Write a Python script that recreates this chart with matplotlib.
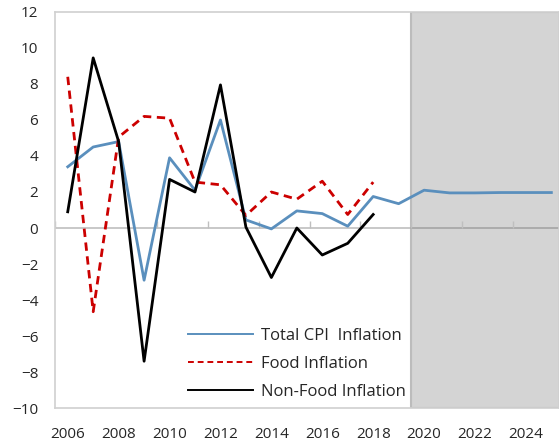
#!/usr/bin/env python3
import matplotlib.pyplot as plt
import numpy

years = numpy.arange(2006, 2026)
hist_years = numpy.arange(2006, 2019)
total_cpi = [3.4, 4.5, 4.8, -2.9, 3.9, 2.1, 6.0, 0.45, -0.05, 0.95, 0.8, 0.1,
             1.75, 1.35, 2.1, 1.95, 1.95, 1.97, 1.97, 1.97]
food = [8.4, -4.65, 5.05, 6.2, 6.1, 2.55, 2.4, 0.7, 2.0, 1.6, 2.6, 0.75, 2.55]
non_food = [0.9, 9.45, 4.8, -7.4, 2.7, 2.0, 7.95, 0.05, -2.75, 0.0, -1.5, -0.85, 0.75]
forecast_start = 2019.5
tick_labels = [str(y) for y in years[::2]]

plt.rcParams["font.family"] = ["Open Sans", "DejaVu Sans"]

fig = plt.figure(figsize=(5.59, 4.47), dpi=100)
ax = fig.add_axes([0.0984, 0.0872, 0.9016, 0.886])

ax.axvspan(forecast_start, 2030, facecolor="#d4d4d4", edgecolor="#bcbcbc",
           linewidth=1.5, zorder=0)
ax.axhline(0, color="#bfbfbf", linewidth=1.2, zorder=1)
ax.plot([forecast_start, 2030], [0, 0], color="#a8a8a8", linewidth=1.2, zorder=1)
ax.vlines(years[::2] - 0.5, 0, 0.4, color="#bfbfbf", linewidth=1.0, zorder=1)

ax.plot(years, total_cpi, color="#5a8fbd", linewidth=2.0, label="Total CPI  Inflation", zorder=3)
ax.plot(hist_years, food, color="#cc0000", linewidth=2.0, linestyle=(0, (3, 2)),
        label="Food Inflation", zorder=3)
ax.plot(hist_years, non_food, color="black", linewidth=2.0, label="Non-Food Inflation", zorder=3)

ax.set_xlim(2005.5, 2025.3)
ax.set_ylim(-10, 12)
ax.set_yticks(range(-10, 13, 2))
ax.set_xticks(years[::2], labels=tick_labels)
ax.tick_params(axis="both", length=0, labelsize=11, colors="#262626")
ax.tick_params(axis="x", pad=14)
ax.tick_params(axis="y", pad=12)
for spine in ax.spines.values():
    spine.set_color("#d0d0d0")
    spine.set_linewidth(1.2)

leg = ax.legend(loc="lower left", bbox_to_anchor=(0.258, 0.012), frameon=False, fontsize=12,
                handlelength=3.9, handletextpad=0.45, labelspacing=0.72, borderpad=0.2,
                borderaxespad=0)
for line in leg.get_lines():
    line.set_linewidth(1.4)
for text in leg.get_texts():
    text.set_color("#262626")

fig.savefig("out.png", dpi=100)
